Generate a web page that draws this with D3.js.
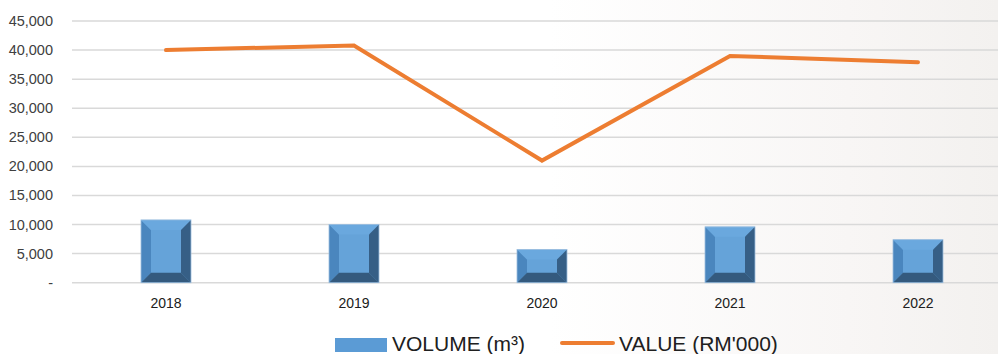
<!DOCTYPE html>
<html><head><meta charset="utf-8">
<script src="https://cdn.jsdelivr.net/npm/d3@7"></script>
<style>body{margin:0;background:#fff}svg{display:block}</style>
</head><body>
<svg id="c" width="998" height="354"></svg>
<script>
const years = ["2018","2019","2020","2021","2022"];
const volume = [10800, 10000, 5700, 9600, 7400];
const value = [40000, 40800, 21000, 39000, 37900];
const yTicks = [0,5000,10000,15000,20000,25000,30000,35000,40000,45000];

const svg = d3.select("#c");
const defs = svg.append("defs");
const g = defs.append("linearGradient").attr("id","bg").attr("x1","0").attr("x2","1").attr("y1","0").attr("y2","0");
g.append("stop").attr("offset","0.55").attr("stop-color","#ffffff");
g.append("stop").attr("offset","0.85").attr("stop-color","#f8f6f5");
g.append("stop").attr("offset","1").attr("stop-color","#f3f1ef");
svg.append("rect").attr("width",998).attr("height",354).attr("fill","url(#bg)");

const x = d3.scaleBand().domain(years).range([72,1012]).padding(0);
const y = d3.scaleLinear().domain([0,45000]).range([282.7,21]);

// gridlines
svg.append("g").selectAll("line").data(yTicks).join("line")
  .attr("x1",72).attr("x2",998).attr("y1",d=>y(d)).attr("y2",d=>y(d))
  .attr("stroke","#d9d9d9").attr("stroke-width",1.5);

// y axis labels
const fmt = d3.format(",");
svg.append("g").selectAll("text").data(yTicks).join("text")
  .attr("x",53).attr("y",d=>y(d)+5).attr("text-anchor","end")
  .attr("font-family","Liberation Sans, Arial, sans-serif").attr("font-size",14.5).attr("fill","#404040")
  .text(d=>d===0?"-":fmt(d));

// bars with bevel
const bw = 50, bev = 10;
const bars = svg.append("g").selectAll("g").data(years.map((yr,i)=>({yr,v:volume[i]}))).join("g");
bars.each(function(d){
  const gg = d3.select(this);
  const cx = x(d.yr)+x.bandwidth()/2;
  const x0 = cx-bw/2, x1 = cx+bw/2, y0 = y(d.v), y1 = y(0);
  const pts = a=>a.map(p=>p.join(",")).join(" ");
  gg.append("rect").attr("x",x0).attr("y",y0).attr("width",bw).attr("height",y1-y0).attr("fill","#65a3d9");
  gg.append("polygon").attr("points",pts([[x0,y0],[x0+bev,y0+bev],[x0+bev,y1-bev],[x0,y1]])).attr("fill","#4a86be");
  gg.append("polygon").attr("points",pts([[x0,y0],[x1,y0],[x1-bev,y0+bev],[x0+bev,y0+bev]])).attr("fill","#6aa8de");
  gg.append("polygon").attr("points",pts([[x1,y0],[x1,y1],[x1-bev,y1-bev],[x1-bev,y0+bev]])).attr("fill","#365f86");
  gg.append("polygon").attr("points",pts([[x0,y1],[x1,y1],[x1-bev,y1-bev],[x0+bev,y1-bev]])).attr("fill","#345a7e");
  gg.append("rect").attr("x",x0).attr("y",y0).attr("width",bw).attr("height",y1-y0).attr("fill","none").attr("stroke","#9dbfdf").attr("stroke-width",0.8);
});

// x labels
svg.append("g").selectAll("text").data(years).join("text")
  .attr("x",d=>x(d)+x.bandwidth()/2).attr("y",308).attr("text-anchor","middle")
  .attr("font-family","Liberation Sans, Arial, sans-serif").attr("font-size",14).attr("fill","#202020")
  .text(d=>d);

// line
const line = d3.line().x((d,i)=>x(years[i])+x.bandwidth()/2).y(d=>y(d));
svg.append("path").datum(value).attr("d",line).attr("fill","none")
  .attr("stroke","#ed7d31").attr("stroke-width",4).attr("stroke-linecap","round").attr("stroke-linejoin","miter");

// legend
svg.append("rect").attr("x",335).attr("y",338).attr("width",52).attr("height",14).attr("fill","#5b9bd5");
svg.append("text").attr("x",392).attr("y",351).attr("font-family","Liberation Sans, Arial, sans-serif")
  .attr("font-size",21).attr("fill","#202020").text("VOLUME (m³)");
svg.append("line").attr("x1",562).attr("x2",613).attr("y1",343).attr("y2",343)
  .attr("stroke","#ed7d31").attr("stroke-width",4).attr("stroke-linecap","round");
svg.append("text").attr("x",619).attr("y",351).attr("font-family","Liberation Sans, Arial, sans-serif")
  .attr("font-size",21).attr("fill","#202020").text("VALUE (RM'000)");
</script>
</body></html>
